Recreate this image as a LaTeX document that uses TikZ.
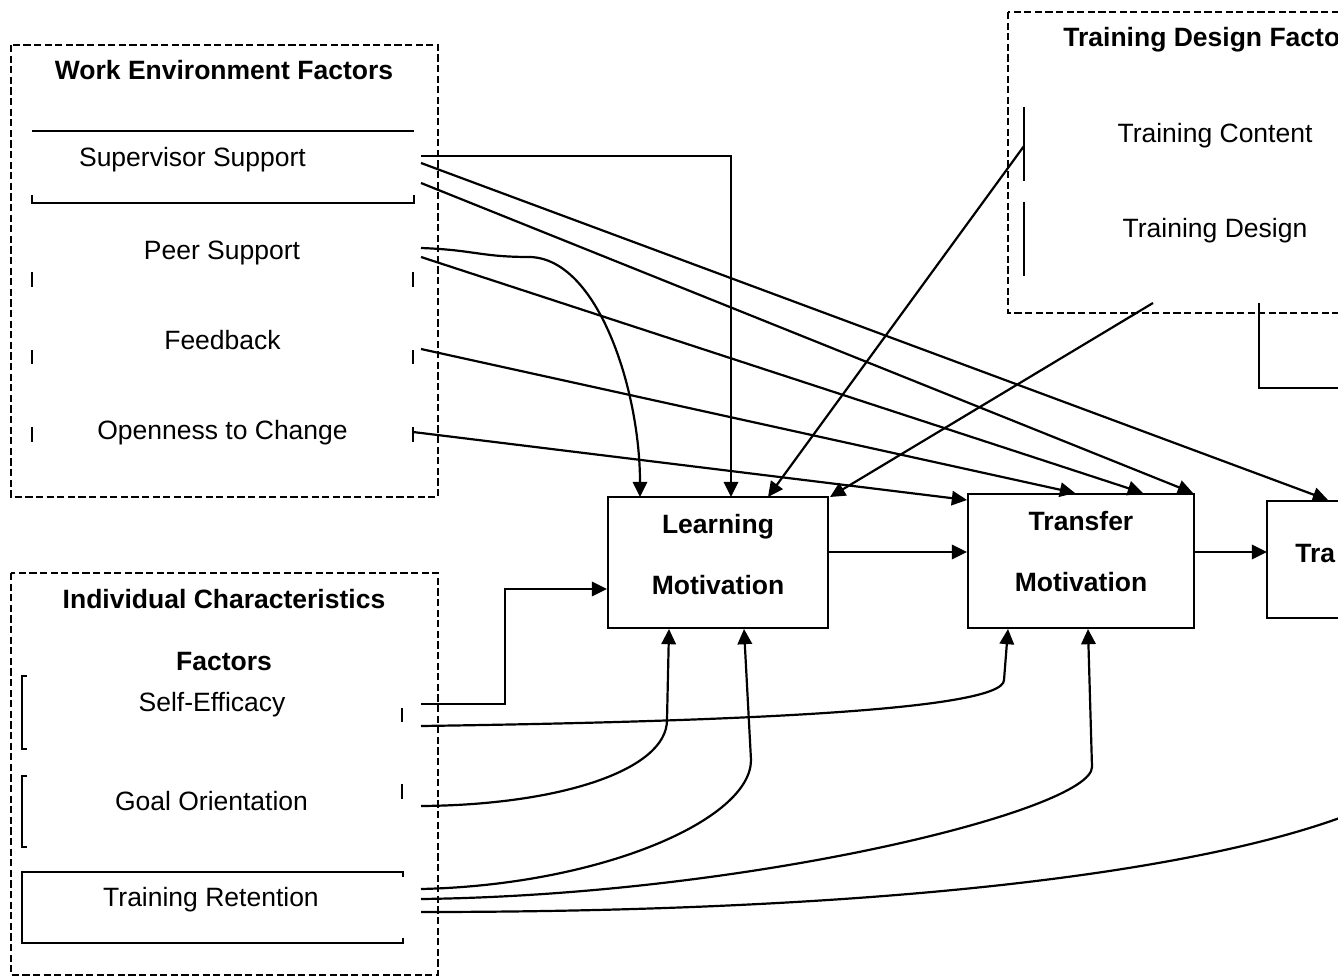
\documentclass[tikz,border=0pt]{standalone}
\usepackage{fontspec}
\setmainfont{Liberation Sans}
\usetikzlibrary{arrows.meta}
\begin{document}
\begin{tikzpicture}[x=0.5pt,y=-0.5pt,
  txt/.style={inner sep=0pt, anchor=base, font=\fontsize{13.25pt}{16pt}\selectfont},
  head/.style={inner sep=0pt, anchor=base, font=\fontsize{13.25pt}{16pt}\selectfont\bfseries},
  group/.style={draw, line width=0.95pt, dash pattern=on 3.6pt off 1.7pt},
  tickline/.style={line width=1.05pt},
  box/.style={draw, line width=1.25pt, inner sep=0pt, outer sep=0pt},
  wire/.style={line width=1.1pt},
  link/.style={line width=1.1pt, -{Triangle[length=7.6pt,width=7.2pt]}}
]
\useasboundingbox (0,0) rectangle (1338,978);
\fill[white] (0,0) rectangle (1338,978);
\clip (0,0) rectangle (1338,978);

% ---------- factor groups (dashed frames) ----------
\draw[group] (11,45) rectangle (438,497);
\draw[group] (11,573) rectangle (438,975);
\draw[group] (1008,12) rectangle (1360,313);

% ---------- Work Environment Factors ----------
\node[head] (weh) at (224,80) {Work Environment Factors};
\node[txt] (ss) at (192.5,167) {Supervisor Support};
\node[txt] (ps) at (222,260) {Peer Support};
\node[txt] (fb) at (222.5,350) {Feedback};
\node[txt] (oc) at (222.5,439) {Openness to Change};
\draw[tickline] (32,131) -- (414,131);
\draw[tickline] (32,195) -- (32,203) -- (414,203) -- (414,195);
\draw[tickline] (32,272) -- (32,287);
\draw[tickline] (413,272) -- (413,287);
\draw[tickline] (32,350) -- (32,364);
\draw[tickline] (413,350) -- (413,364);
\draw[tickline] (32,427) -- (32,442);
\draw[tickline] (413,427) -- (413,442);

% ---------- Individual Characteristics Factors ----------
\node[head] (ich) at (224,608) {Individual Characteristics};
\node[head] (icf) at (224,670) {Factors};
\node[txt] (se) at (212,711.5) {Self-Efficacy};
\node[txt] (go) at (211.5,810.5) {Goal Orientation};
\node[txt] (tr) at (211,906.5) {Training Retention};
\draw[tickline] (27,676) -- (22,676) -- (22,749) -- (27,749);
\draw[tickline] (402,708) -- (402,722);
\draw[tickline] (27,776) -- (22,776) -- (22,847) -- (27,847);
\draw[tickline] (402,784) -- (402,799);
\draw[tickline] (403,877) -- (403,872) -- (22,872) -- (22,943) -- (403,943) -- (403,938);

% ---------- Training Design Factors ----------
\node[head, anchor=base west] (tdh) at (1063,46.5) {Training Design Facto};
\node[txt] (tcn) at (1215,143) {Training Content};
\node[txt] (tdn) at (1215,238) {Training Design};
\draw[tickline] (1024,107) -- (1024,181);
\draw[tickline] (1024,202) -- (1024,276);

% ---------- outcome boxes ----------
\node[box, minimum width=110pt, minimum height=65.5pt] (lm) at (718,562.5) {};
\node[head] (lmA) at (718,533) {Learning};
\node[head] (lmB) at (718,594) {Motivation};
\node[box, minimum width=113pt, minimum height=67pt] (tm) at (1081,561) {};
\node[head] (tmA) at (1081,530) {Transfer};
\node[head] (tmB) at (1081,591) {Motivation};
\node[box, minimum width=76.5pt, minimum height=58.5pt] (tt) at (1343.5,559.5) {};
\node[head, anchor=base west] (ttA) at (1295,562) {Tra};

% ---------- connector ends ----------
\coordinate (ss1) at (421,156);
\coordinate (ss2) at (421,163);
\coordinate (ss3) at (421,183);
\coordinate (ps1) at (421,248);
\coordinate (ps2) at (421,257);
\coordinate (fb1) at (421,349);
\coordinate (oc1) at (413,432);
\coordinate (se1) at (421,704);
\coordinate (se2) at (421,726);
\coordinate (go1) at (421,806);
\coordinate (tr1) at (421,889);
\coordinate (tr2) at (421,899);
\coordinate (tr3) at (421,912);
\coordinate (tc1) at (1024,146);
\coordinate (td1) at (1153,303);
\coordinate (td2) at (1259,303);

\coordinate (lm-t1) at (640,497);
\coordinate (lm-t2) at (731,497);
\coordinate (lm-t3) at (768,497);
\coordinate (lm-t4) at (830,497);
\coordinate (lm-l) at (607,589);
\coordinate (lm-r) at (829,552);
\coordinate (lm-b1) at (669,629);
\coordinate (lm-b2) at (744,629);
\coordinate (tm-t1) at (1075,493);
\coordinate (tm-t2) at (1143,493);
\coordinate (tm-t3) at (1193,493);
\coordinate (tm-l1) at (967,500);
\coordinate (tm-l2) at (967,552);
\coordinate (tm-r) at (1194,552);
\coordinate (tm-b1) at (1008,629);
\coordinate (tm-b2) at (1088,629);
\coordinate (tt-t) at (1328,500);
\coordinate (tt-l) at (1267,552);
\coordinate (tt-r) at (1345,388);
\coordinate (tt-b) at (1345,816);

% ---------- work environment links ----------
\draw[link] (ss1) -| (lm-t2);
\draw[link] (ss2) -- (tt-t);
\draw[link] (ss3) -- (tm-t3);
\draw[link] (ps1) .. controls (475,250) and (480,257) .. (530,257)
                  .. controls (598,259) and (640,390) .. (lm-t1);
\draw[link] (ps2) -- (tm-t2);
\draw[link] (fb1) -- (tm-t1);
\draw[link] (oc1) -- (tm-l1);

% ---------- training design links ----------
\draw[link] (tc1) -- (lm-t3);
\draw[link] (td1) -- (lm-t4);
\draw[wire] (td2) |- (tt-r);

% ---------- individual characteristics links ----------
\draw[link] (se1) -- ++(84,0) |- (lm-l);
\draw[link] (se2) .. controls (700,722) and (1004,712) .. (1004,680) -- (tm-b1);
\draw[link] (go1) .. controls (560,805) and (667,770) .. (667,720) -- (lm-b1);
\draw[link] (tr1) .. controls (600,885) and (751,820) .. (751,760) -- (lm-b2);
\draw[link] (tr2) .. controls (750,895) and (1092,810) .. (1092,767) -- (tm-b2);
\draw[wire] (tr3) .. controls (900,912) and (1200,870) .. (tt-b);

% ---------- chain of motivation ----------
\draw[link] (lm-r) -- (tm-l2);
\draw[link] (tm-r) -- (tt-l);
\end{tikzpicture}
\end{document}
